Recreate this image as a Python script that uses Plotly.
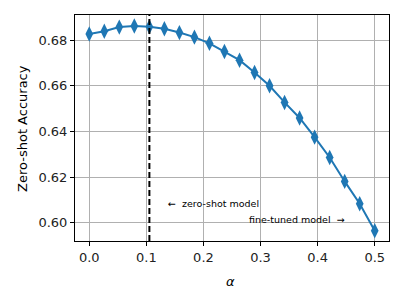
import numpy as np
import plotly.graph_objects as go

alpha = [0.0, 0.0263, 0.0526, 0.0789, 0.1053, 0.1316, 0.1579, 0.1842, 0.2105, 0.2368,
         0.2632, 0.2895, 0.3158, 0.3421, 0.3684, 0.3947, 0.4211, 0.4474, 0.4737, 0.5]
accuracy = [0.6827, 0.6839, 0.6857, 0.6862, 0.6858, 0.6850, 0.6833, 0.6813, 0.6786, 0.6750,
            0.6712, 0.6658, 0.6600, 0.6527, 0.6459, 0.6375, 0.6286, 0.6181, 0.6083, 0.5965]
best_alpha = 0.1053
x_ticks = [0.0, 0.1, 0.2, 0.3, 0.4, 0.5]
y_ticks = [0.60, 0.62, 0.64, 0.66, 0.68]

FONT = "DejaVu Sans"
fig = go.Figure()
fig.add_trace(go.Scatter(
    x=alpha, y=accuracy, mode="lines+markers",
    line=dict(color="#1f77b4", width=2),
    marker=dict(symbol="diamond-tall", size=11, color="#1f77b4"),
    showlegend=False,
))
fig.add_shape(type="line", xref="x", yref="paper", x0=best_alpha, x1=best_alpha, y0=0, y1=1,
              line=dict(color="black", width=2, dash="6px,3px"))
fig.add_annotation(x=0.1348, y=0.6083, xref="x", yref="y", text="←  zero-shot model",
                   showarrow=False, xanchor="left", yanchor="middle",
                   font=dict(family=FONT, size=9.5, color="black"))
fig.add_annotation(x=0.451, y=0.6016, xref="x", yref="y", text="fine-tuned model  →",
                   showarrow=False, xanchor="right", yanchor="middle",
                   font=dict(family=FONT, size=9.5, color="black"))
# axis titles
fig.add_annotation(x=0.494, y=-0.18, xref="paper", yref="paper", text="<i>α</i>",
                   showarrow=False, xanchor="center", yanchor="middle",
                   font=dict(family=FONT, size=13, color="black"))
fig.add_annotation(x=-0.169, y=0.5, xref="paper", yref="paper", text="Zero-shot Accuracy",
                   showarrow=False, xanchor="center", yanchor="middle", textangle=-90,
                   font=dict(family=FONT, size=13, color="black"))

axis_common = dict(showline=True, linecolor="black", linewidth=1, mirror=True,
                   ticks="outside", ticklen=4, tickcolor="black", tickwidth=1,
                   showgrid=True, gridcolor="#b0b0b0", gridwidth=1, zeroline=False,
                   automargin=False,
                   tickfont=dict(family=FONT, size=13, color="#222"))
fig.update_xaxes(range=[-0.025, 0.525], tickvals=x_ticks,
                 ticktext=[f"{v:.1f}" for v in x_ticks], **axis_common)
fig.update_yaxes(range=[0.5920, 0.6910], tickvals=y_ticks,
                 ticktext=[f"{v:.2f}" for v in y_ticks], **axis_common)
fig.update_layout(width=392, height=292, margin=dict(l=67, r=11, t=7, b=59),
                  plot_bgcolor="white", paper_bgcolor="white")
fig.write_html("out.html")
